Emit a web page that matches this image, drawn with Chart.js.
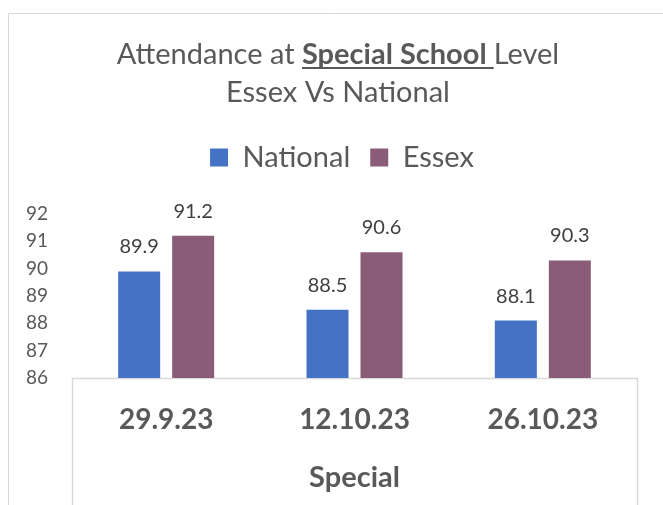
<!DOCTYPE html>
<html>
<head>
<meta charset="utf-8">
<script src="https://cdn.jsdelivr.net/npm/chart.js@4.4.1/dist/chart.umd.min.js"></script>
<style>
  html, body { margin: 0; padding: 0; background: #fff; }
  #wrap { width: 663px; height: 505px; }
</style>
</head>
<body>
<div id="wrap"><canvas id="myChart" width="663" height="505"></canvas></div>
<script>
var categories = ['29.9.23', '12.10.23', '26.10.23'];
var groupLabel = 'Special';
var nationalValues = [89.9, 88.5, 88.1];
var essexValues = [91.2, 90.6, 90.3];
var yTicksMin = 86;
var yTicksMax = 92;

var textColor = '#595959';
var lineColor = '#d9d9d9';

// title has mixed bold/underline, so it is drawn by hand
var titlePlugin = {
    id: 'mixedTitle',
    afterDraw: function (chart) {
        var ctx = chart.ctx;
        ctx.save();
        ctx.fillStyle = textColor;
        ctx.textBaseline = 'alphabetic';
        ctx.textAlign = 'left';
        var parts = [
            { t: 'Attendance at ', f: '29px Lato' },
            { t: 'Special School ', f: 'bold 29px Lato', u: true },
            { t: 'Level', f: '29px Lato' }
        ];
        var total = 0;
        parts.forEach(function (p) { ctx.font = p.f; p.w = ctx.measureText(p.t).width; total += p.w; });
        var cx = 338;
        var x = cx - total / 2;
        parts.forEach(function (p) {
            ctx.font = p.f;
            ctx.fillText(p.t, x, 64);
            if (p.u) ctx.fillRect(x, 67, p.w, 2);
            x += p.w;
        });
        ctx.font = '29px Lato';
        ctx.textAlign = 'center';
        ctx.fillText('Essex Vs National', cx, 102);
        ctx.restore();
    }
};

// frame lines and the box round the category labels
var framePlugin = {
    id: 'frame',
    beforeDraw: function (chart) {
        var ctx = chart.ctx;
        var a = chart.chartArea;
        ctx.save();
        ctx.strokeStyle = lineColor;
        ctx.lineWidth = 1;
        ctx.beginPath();
        ctx.moveTo(8.5, 505);
        ctx.lineTo(8.5, 13.5);
        ctx.lineTo(663, 13.5);
        ctx.stroke();
        ctx.lineWidth = 1.5;
        ctx.beginPath();
        ctx.moveTo(Math.round(a.left) + 0.5, chart.height);
        ctx.lineTo(Math.round(a.left) + 0.5, Math.round(a.bottom) + 0.5);
        ctx.lineTo(Math.round(a.right) + 0.5, Math.round(a.bottom) + 0.5);
        ctx.lineTo(Math.round(a.right) + 0.5, chart.height);
        ctx.stroke();
        ctx.restore();
    }
};

var valueLabels = {
    id: 'valueLabels',
    afterDatasetsDraw: function (chart) {
        var ctx = chart.ctx;
        ctx.save();
        ctx.font = '20px Lato';
        ctx.fillStyle = '#404040';
        ctx.textAlign = 'center';
        ctx.textBaseline = 'alphabetic';
        chart.data.datasets.forEach(function (ds, i) {
            chart.getDatasetMeta(i).data.forEach(function (bar, j) {
                ctx.fillText(ds.data[j].toFixed(1), bar.x, bar.y - 18);
            });
        });
        ctx.restore();
    }
};

var legendSpace = {
    id: 'legendSpace',
    beforeInit: function (chart) {
        var fit = chart.legend.fit;
        chart.legend.fit = function () {
            fit.bind(chart.legend)();
            this.height += 32;
        };
    }
};

var ctx = document.getElementById('myChart').getContext('2d');
var myChart = new Chart(ctx, {
    type: 'bar',
    data: {
        labels: categories,
        datasets: [
            { label: 'National', data: nationalValues, backgroundColor: '#4472C4' },
            { label: 'Essex', data: essexValues, backgroundColor: '#8A5C77' }
        ]
    },
    options: {
        responsive: false,
        animation: false,
        layout: { padding: { top: 123, left: 47, right: 26, bottom: 0 } },
        datasets: { bar: { categoryPercentage: 0.5735, barPercentage: 0.778 } },
        plugins: {
            title: { display: false },
            tooltip: { enabled: false },
            legend: {
                position: 'top',
                labels: {
                    color: textColor,
                    font: { family: 'Lato', size: 29 },
                    boxWidth: 18,
                    boxHeight: 18,
                    padding: 20
                }
            }
        },
        scales: {
            x: {
                grid: { display: false },
                border: { display: false },
                ticks: { color: textColor, font: { family: 'Lato', size: 28, weight: 'bold' }, padding: 17 },
                title: { display: true, text: groupLabel, color: textColor, font: { family: 'Lato', size: 29, weight: 'bold' }, padding: { bottom: 10 } },
                afterFit: function (s) { s.height = 127; }
            },
            y: {
                min: yTicksMin,
                max: yTicksMax,
                grid: { display: false },
                border: { display: false },
                // mirrored so the labels are not clipped to the narrow axis box
                ticks: { stepSize: 1, color: textColor, font: { family: 'Lato', size: 19 }, mirror: true, crossAlign: 'far', padding: -46 },
                afterFit: function (s) { s.width = 25; }
            }
        }
    },
    plugins: [titlePlugin, framePlugin, valueLabels, legendSpace]
});
</script>
</body>
</html>
